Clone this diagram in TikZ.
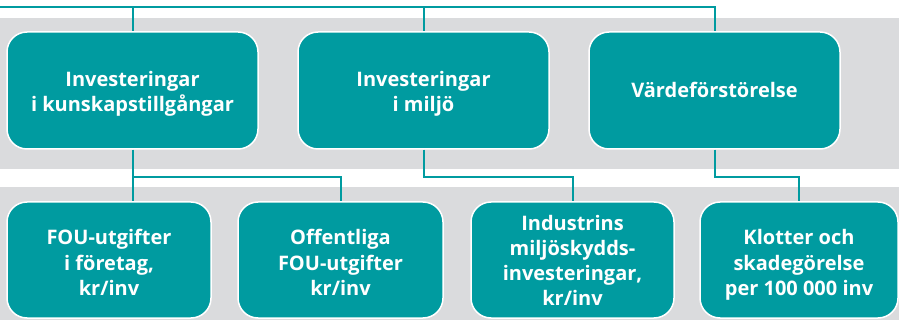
\documentclass[tikz,border=0pt]{standalone}
\usepackage{fontspec}
\setmainfont{Open Sans}
\newfontfamily\boxfont{Open Sans}
\newcommand\boxtext[2][3pt]{\raisebox{-#1}[\height][\depth]{\begin{tabular}{@{}c@{}}#2\end{tabular}}}
\definecolor{tealbox}{RGB}{0,155,160}
\definecolor{band}{RGB}{218,219,221}
\begin{document}
\begin{tikzpicture}[x=1pt,y=-1pt,
  boxst/.style={draw=white,line width=1.5pt,fill=tealbox,rounded corners=20pt,
    text=white,font={\boxfont\bfseries\fontsize{20}{25}\selectfont},inner sep=0pt},
  topbox/.style={boxst,minimum width=251pt,minimum height=117pt},
  lowbox/.style={boxst,minimum height=116pt},
  conn/.style={draw=tealbox,line width=2pt}]
\useasboundingbox (0,0) rectangle (899,320);
\fill[band] (0,18) rectangle (899,169);
\fill[band] (0,187) rectangle (899,320);
\node[topbox] (b1) at (132.5,90.5) {\boxtext[4pt]{Investeringar\\i kunskapstillgångar}};
\node[topbox] (b2) at (423.5,90.5) {\boxtext[4pt]{Investeringar\\i miljö}};
\node[topbox] (b3) at (714.5,90.5) {\boxtext[2pt]{Värdeförstörelse}};
\node[lowbox,minimum width=204pt] (fou) at (109,260) {\boxtext[5pt]{FOU-utgifter\\i företag,\\kr/inv}};
\node[lowbox,minimum width=205pt] (off) at (340.5,260) {\boxtext[5pt]{Offentliga\\FOU-utgifter\\kr/inv}};
\node[lowbox,minimum width=203pt] (ind) at (572.5,260) {\boxtext[3pt]{Industrins\\miljöskydds-\\investeringar,\\kr/inv}};
\node[lowbox,minimum width=198pt] (klo) at (799,260) {\boxtext[5pt]{Klotter och\\skadegörelse\\per 100~000 inv}};
\coordinate (tl) at (0,7);
\coordinate (lv) at (0,177);
\draw[conn] (tl) -| (b3.north);
\draw[conn] (b1.north |- tl) -- (b1.north);
\draw[conn] (b2.north |- tl) -- (b2.north);
\draw[conn] (b1.south) -- (b1.south |- fou.north);
\draw[conn] (b1.south |- lv) -| (off.north);
\draw[conn] (b2.south) |- (lv -| ind.north) -- (ind.north);
\draw[conn] (b3.south) |- (lv -| klo.north) -- (klo.north);
\end{tikzpicture}
\end{document}
